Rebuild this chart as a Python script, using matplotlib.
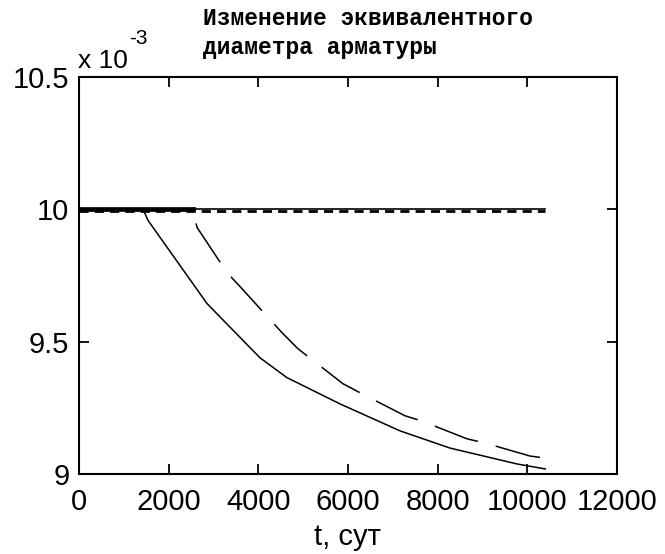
import numpy as np
import matplotlib.pyplot as plt

# equivalent rebar diameter, x 1e-3 m
t_a = [0, 1430, 1540, 2855, 4037, 4639, 5821, 7160, 8275, 9769, 10400]
d_a = [10.0, 10.0, 9.958, 9.644, 9.439, 9.364, 9.265, 9.163, 9.098, 9.038, 9.019]

t_b = [0, 2540, 2632, 3301, 3636, 4528, 4885, 5889, 6268, 7271, 7650, 8654, 9055, 10059, 10400]
d_b = [10.0, 10.0, 9.932, 9.761, 9.70, 9.534, 9.473, 9.341, 9.307, 9.220, 9.20, 9.133, 9.117, 9.068, 9.06]

t_c = [0, 10400]
d_c = [10.0, 10.0]

fig = plt.figure(figsize=(6.65, 5.54), dpi=100)
ax = fig.add_axes([79 / 665, 1 - 474 / 554, 538 / 665, 397 / 554])

ax.plot(t_c, d_c, color='black', lw=1.2)
ax.plot(t_c, [v - 0.006 for v in d_c], color='black', lw=2.0, dashes=(3.3, 2.2))
ax.plot(t_a, d_a, color='black', lw=1.1)
ax.plot(t_b, d_b, color='black', lw=1.1, dashes=(30, 12))
ax.plot([0, 2540], [10.0, 10.0], color='black', lw=3.4)

ax.set_xlim(0, 12000)
ax.set_ylim(9, 10.5)
ax.set_xticks([0, 2000, 4000, 6000, 8000, 10000, 12000])
ax.set_yticks([9, 9.5, 10, 10.5])
ax.set_yticklabels(['9', '9.5', '10', '10.5'])

tick_font = {'family': 'Liberation Sans', 'size': 21}
for lab in ax.get_xticklabels() + ax.get_yticklabels():
    lab.set_fontfamily('Liberation Sans')
    lab.set_fontsize(21)

ax.tick_params(direction='in', length=7, width=1.3, top=True, right=True)
ax.tick_params(axis='x', pad=10)
ax.tick_params(axis='y', pad=7)
for sp in ax.spines.values():
    sp.set_linewidth(1.5)

ax.set_xlabel('t, сут', fontdict=tick_font, labelpad=5)

fig.text(78 / 665, 1 - 68 / 554, 'x 10', fontdict={'family': 'Liberation Sans', 'size': 19})
fig.text(129 / 665, 1 - 44 / 554, '-3', fontdict={'family': 'Liberation Sans', 'size': 15})

fig.text(203 / 665, 1 - 33 / 554, 'Изменение эквивалентного\nдиаметра арматуры',
         family='Liberation Mono', weight='bold', size=16.5, ha='left', va='center',
         linespacing=1.3)

plt.savefig('out.png', dpi=100)
